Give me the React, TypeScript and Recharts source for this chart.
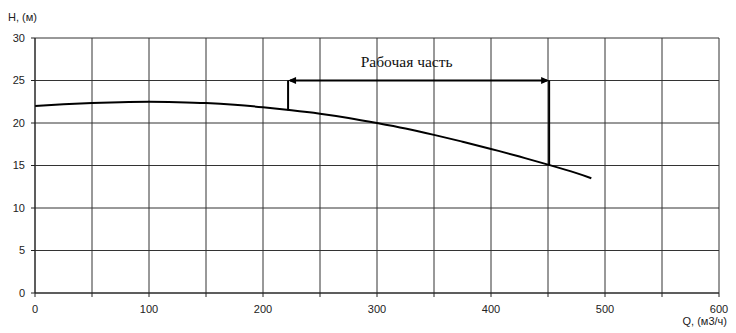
import React from "react";
import { LineChart, Line, XAxis, YAxis, CartesianGrid, ReferenceLine, ReferenceDot } from "recharts";

const flowQ = [0, 25, 50, 75, 100, 125, 150, 175, 200, 225, 250, 275, 300, 325, 350, 375, 400, 425, 450, 475, 488];
const headH = [22.0, 22.2, 22.35, 22.45, 22.5, 22.45, 22.35, 22.15, 21.85, 21.5, 21.1, 20.6, 20.0, 19.35, 18.6, 17.8, 16.95, 16.05, 15.1, 14.1, 13.5];
const xTicks = [0, 50, 100, 150, 200, 250, 300, 350, 400, 450, 500, 550, 600];
const yTicks = [0, 5, 10, 15, 20, 25, 30];
const workStartQ = 222;
const workStartH = 21.5;
const workEndQ = 451;
const workEndH = 15;
const arrowH = 25;
const workLabel = "Рабочая часть";
const workLabelQ = 326;
const workLabelH = 27.2;
const yAxisTitle = "H, (м)";
const xAxisTitle = "Q, (м3/ч)";

const data = flowQ.map((q, i) => ({ q, h: headH[i] }));

const sans = "'Liberation Sans', Arial, sans-serif";

const XTick = (props: any) => {
  const { x, y, payload } = props;
  if (payload.value % 100 !== 0) return null;
  return (
    <text x={x} y={y} dy="0.71em" textAnchor="middle" fontSize={11} fontFamily={sans} fill="#222">
      {payload.value}
    </text>
  );
};

const YTick = (props: any) => {
  const { x, y, payload } = props;
  return (
    <text x={x} y={y} dy="0.355em" textAnchor="end" fontSize={11} fontFamily={sans} fill="#222">
      {payload.value}
    </text>
  );
};

const ArrowShape = (props: any) => {
  const { x1, y1, x2, y2 } = props;
  const a = 8;
  const w = 3.5;
  return (
    <g>
      <line x1={x1 + 2} y1={y1} x2={x2 - 2} y2={y2} stroke="#000" strokeWidth={2} />
      <polygon points={`${x1},${y1} ${x1 + a},${y1 - w} ${x1 + a},${y1 + w}`} fill="#000" />
      <polygon points={`${x2},${y2} ${x2 - a},${y2 - w} ${x2 - a},${y2 + w}`} fill="#000" />
    </g>
  );
};

const LabelShape = (props: any) => {
  const { cx, cy } = props;
  return (
    <text x={cx} y={cy} dy="0.35em" textAnchor="middle" fontSize={15.5} fontFamily="'Liberation Serif', 'Times New Roman', serif" fill="#111">
      {workLabel}
    </text>
  );
};

export default function App() {
  return (
    <div style={{ position: "absolute", left: 0, top: 0, width: 736, height: 333, background: "#fff" }}>
      <LineChart width={736} height={333} data={data} margin={{ top: 38, right: 17, left: 0, bottom: 0 }}>
        <CartesianGrid stroke="#333" strokeWidth={1} />
        <XAxis
          dataKey="q"
          type="number"
          domain={[0, 600]}
          ticks={xTicks}
          interval={0}
          height={40}
          tick={<XTick />}
          tickSize={4}
          tickMargin={8}
          stroke="#222"
          tickLine={{ stroke: "#222" }}
          label={{
            content: () => (
              <text x={727} y={325} textAnchor="end" fontSize={11} fontFamily={sans} fill="#222">
                {xAxisTitle}
              </text>
            ),
          }}
        />
        <YAxis
          type="number"
          domain={[0, 30]}
          ticks={yTicks}
          interval={0}
          width={35}
          tick={<YTick />}
          tickSize={4}
          tickMargin={6}
          stroke="#222"
          tickLine={{ stroke: "#222" }}
          label={{
            content: () => (
              <text x={8} y={21} textAnchor="start" fontSize={11} fontFamily={sans} fill="#222">
                {yAxisTitle}
              </text>
            ),
          }}
        />
        <Line type="natural" dataKey="h" stroke="#000" strokeWidth={2} dot={false} isAnimationActive={false} />
        <ReferenceLine
          segment={[{ x: workStartQ, y: workStartH }, { x: workStartQ, y: arrowH }]}
          stroke="#000"
          strokeWidth={2}
        />
        <ReferenceLine
          segment={[{ x: workEndQ, y: workEndH }, { x: workEndQ, y: arrowH }]}
          stroke="#000"
          strokeWidth={2}
        />
        <ReferenceLine
          segment={[{ x: workStartQ, y: arrowH }, { x: workEndQ, y: arrowH }]}
          shape={<ArrowShape />}
        />
        <ReferenceDot x={workLabelQ} y={workLabelH} r={0} shape={<LabelShape />} />
      </LineChart>
    </div>
  );
}
